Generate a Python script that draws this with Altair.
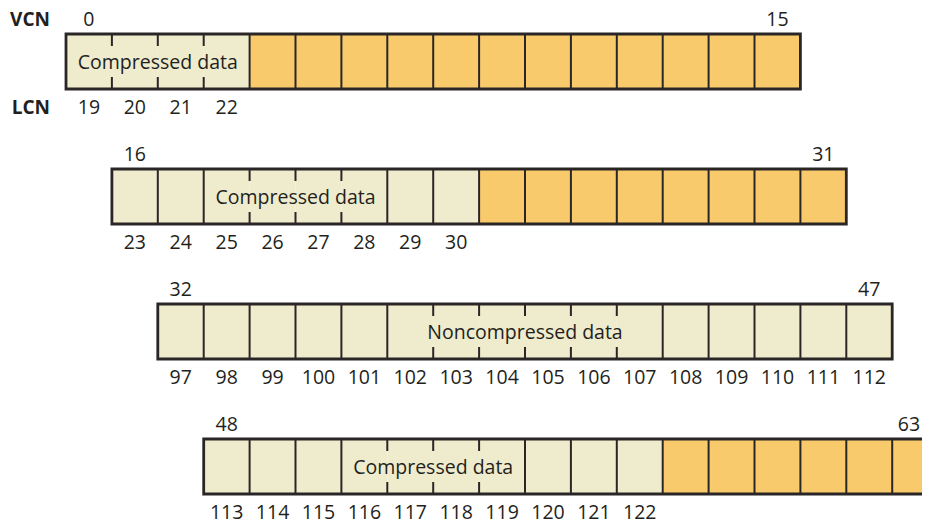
import altair as alt
import pandas as pd

# ---- data ----
rows = [0, 1, 2, 3]
vcn_first = [0, 16, 32, 48]
vcn_last = [15, 31, 47, 63]
stored_cells = [4, 8, 16, 10]          # cells that hold data on disk (have an LCN)
lcn_first = [19, 23, 97, 113]
region_labels = ["Compressed data", "Compressed data", "Noncompressed data", "Compressed data"]
label_from = [0, 2, 5, 3]              # cell span that the label covers
label_to = [4, 6, 11, 7]
cells_per_row = 16
side_labels = ["VCN", "LCN"]

# ---- layout (pixels) ----
W, H = 914, 513
CELL = 45.9
X0 = 58.0
ROW_STEP = 135.0
Y0 = 26.0
BOX_H = 55.0
TICK = 12.0
TOP_OFF = 14.0
BOT_OFF = 18.5

bh = BOX_H / ROW_STEP
tk = TICK / ROW_STEP

xs = alt.Scale(domain=[-X0 / CELL, (W - X0) / CELL], range=[0, W], nice=False, zero=False)
ys = alt.Scale(domain=[-Y0 / ROW_STEP, (H - Y0) / ROW_STEP], range=[0, H], nice=False, zero=False)

cells, full_lines, ticks, borders, vcn_txt, lcn_txt, reg_txt = [], [], [], [], [], [], []
for r in rows:
    for c in range(cells_per_row):
        cells.append(dict(x=r + c, x2=r + c + 1, y=r, y2=r + bh,
                          kind="stored" if c < stored_cells[r] else "free"))
        if c < stored_cells[r]:
            lcn_txt.append(dict(x=r + c + 0.5, y=r + bh + BOT_OFF / ROW_STEP, t=str(lcn_first[r] + c)))
    for b in range(1, cells_per_row):
        if label_from[r] < b < label_to[r]:
            ticks.append(dict(x=r + b, y=r, y2=r + tk))
            ticks.append(dict(x=r + b, y=r + bh - tk, y2=r + bh))
        else:
            full_lines.append(dict(x=r + b, y=r, y2=r + bh))
    borders.append(dict(x=r, x2=r + cells_per_row, y=r, y2=r + bh))
    vcn_txt.append(dict(x=r + 0.5, y=r - TOP_OFF / ROW_STEP, t=str(vcn_first[r])))
    # keep the last VCN label inside the visible page on the bottom row
    last_x = r + cells_per_row - 0.5
    last_x = min(last_x, (W - 13 - X0) / CELL)
    vcn_txt.append(dict(x=last_x, y=r - TOP_OFF / ROW_STEP, t=str(vcn_last[r])))
    reg_txt.append(dict(x=r + (label_from[r] + label_to[r]) / 2, y=r + bh / 2 + 1.5 / ROW_STEP,
                        t=region_labels[r]))

side = pd.DataFrame(dict(x=[(42 - X0) / CELL] * 2,
                         y=[-TOP_OFF / ROW_STEP, bh + BOT_OFF / ROW_STEP], t=side_labels))

FONT = "Open Sans"
DARK = "#2a2626"

cell_layer = alt.Chart(pd.DataFrame(cells)).mark_rect(clip=True, strokeWidth=0).encode(
    x=alt.X("x:Q", scale=xs, axis=None), x2="x2:Q",
    y=alt.Y("y:Q", scale=ys, axis=None), y2="y2:Q",
    color=alt.Color("kind:N", scale=alt.Scale(domain=["stored", "free"],
                                              range=["#EFEBCD", "#F9CA6C"]), legend=None),
)

line_layer = alt.Chart(pd.DataFrame(full_lines)).mark_rule(clip=True, color=DARK, strokeWidth=2).encode(
    x=alt.X("x:Q", scale=xs), y=alt.Y("y:Q", scale=ys), y2="y2:Q")

tick_layer = alt.Chart(pd.DataFrame(ticks)).mark_rule(clip=True, color=DARK, strokeWidth=2).encode(
    x=alt.X("x:Q", scale=xs), y=alt.Y("y:Q", scale=ys), y2="y2:Q")

border_layer = alt.Chart(pd.DataFrame(borders)).mark_rect(
    clip=True, fillOpacity=0, stroke=DARK, strokeWidth=2.8).encode(
    x=alt.X("x:Q", scale=xs), x2="x2:Q", y=alt.Y("y:Q", scale=ys), y2="y2:Q")

def text_layer(df, size=19.5, **kw):
    return alt.Chart(pd.DataFrame(df)).mark_text(
        font=FONT, fontSize=size, color="#231F20", baseline="middle", **kw).encode(
        x=alt.X("x:Q", scale=xs), y=alt.Y("y:Q", scale=ys), text="t:N")

vcn_layer = text_layer(vcn_txt, align="center")
lcn_layer = text_layer(lcn_txt, align="center")
reg_layer = text_layer(reg_txt, align="center")
side_layer = text_layer(side, size=19, align="right", fontWeight="bold")

chart = alt.layer(cell_layer, line_layer, tick_layer, border_layer,
                  vcn_layer, lcn_layer, reg_layer, side_layer).properties(
    width=W, height=H, padding=0, autosize=alt.AutoSizeParams(type="none"),
    background="white",
).configure_view(stroke=None)

chart.save("out.html", embed_options={"renderer": "svg", "actions": False})
